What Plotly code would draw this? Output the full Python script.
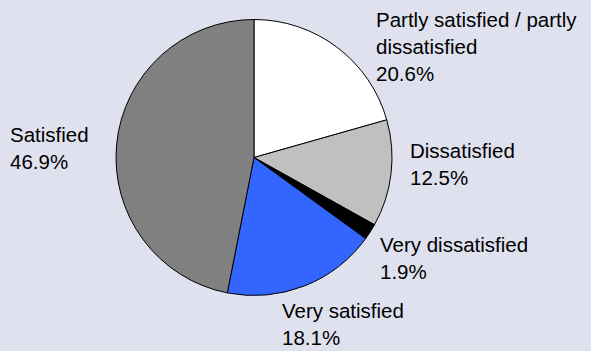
import plotly.graph_objects as go

# Survey satisfaction shares, clockwise from 12 o'clock
categories = ["Partly satisfied / partly dissatisfied", "Dissatisfied",
              "Very dissatisfied", "Very satisfied", "Satisfied"]
shares = [20.6, 12.5, 1.9, 18.1, 46.9]
colors = ["#FFFFFF", "#C0C0C0", "#000000", "#3366FF", "#808080"]

# Label text lines for each category (name lines, then percentage)
name_lines = [["Partly satisfied / partly", "dissatisfied"], ["Dissatisfied"],
              ["Very dissatisfied"], ["Very satisfied"], ["Satisfied"]]
# Left edge and first-baseline pixel positions of each label block
label_x = [377, 411, 381, 283, 11]
label_base = [27, 158, 252, 318, 142]

W, H = 591, 351
FONT = 20.5
LINE = 27
BG = "#E0E1EF"

fig = go.Figure(go.Pie(
    labels=categories,
    values=shares,
    sort=False,
    direction="clockwise",
    rotation=0,
    marker=dict(colors=colors, line=dict(color="#000000", width=1)),
    textinfo="none",
    hoverinfo="label+percent",
    showlegend=False,
    domain=dict(x=[(254 - 138) / W, (254 + 138) / W],
                y=[(351 - 295.5) / H, (351 - 19.5) / H]),
))

annotations = []
for lines, share, x0, b0 in zip(name_lines, shares, label_x, label_base):
    for i, txt in enumerate(lines + [f"{share:.1f}%"]):
        base = b0 + i * LINE
        yc = base - 0.36 * FONT
        annotations.append(dict(
            x=(x0 - 3) / W, y=1 - yc / H, xref="paper", yref="paper",
            xanchor="left", yanchor="middle", showarrow=False,
            text=txt, font=dict(family="Liberation Sans, Arial", size=FONT, color="#000000"),
        ))

fig.update_layout(
    width=W, height=H,
    margin=dict(l=0, r=0, t=0, b=0),
    paper_bgcolor=BG, plot_bgcolor=BG,
    annotations=annotations,
)

fig.write_html("out.html")
